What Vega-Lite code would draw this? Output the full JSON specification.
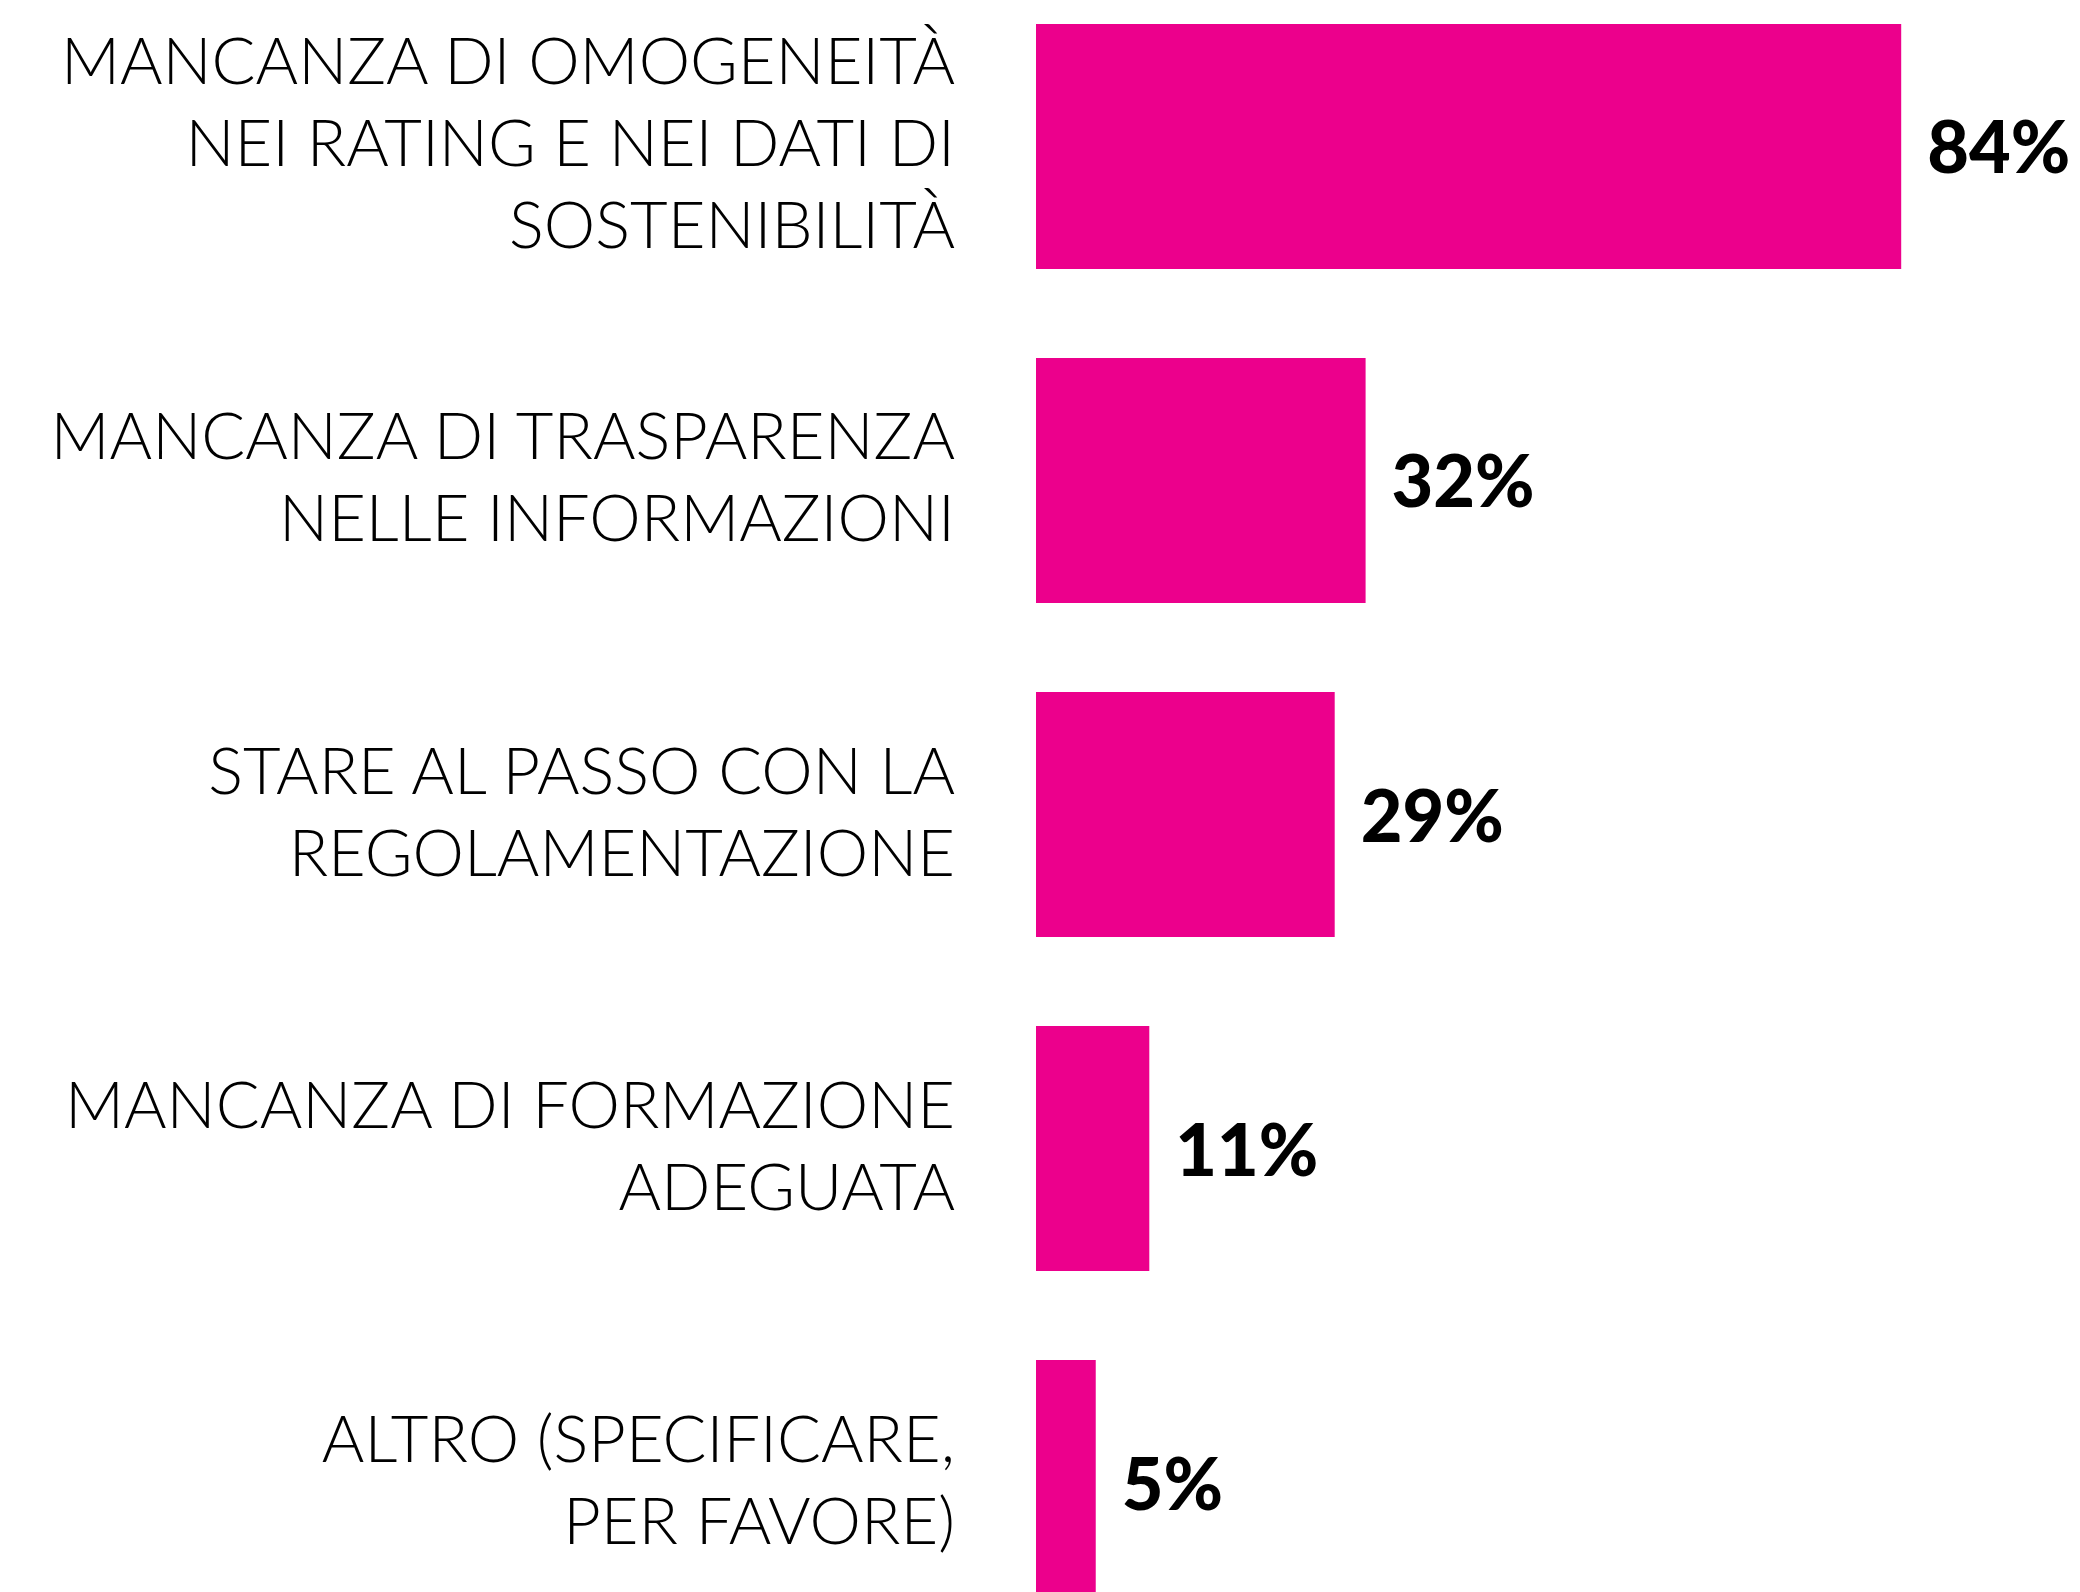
{
  "$schema": "https://vega.github.io/schema/vega-lite/v6.json",
  "width": 1030,
  "height": 1592,
  "autosize": {"type": "none"},
  "padding": {"left": 1036, "top": 0, "right": 14, "bottom": 0},
  "background": "white",
  "config": {"view": {"stroke": null}},
  "data": {
    "values": [
      {"categoria": "MANCANZA DI OMOGENEITÀ\nNEI RATING E NEI DATI DI\nSOSTENIBILITÀ", "pct": 84, "etichetta": "84%"},
      {"categoria": "MANCANZA DI TRASPARENZA\nNELLE INFORMAZIONI", "pct": 32, "etichetta": "32%"},
      {"categoria": "STARE AL PASSO CON LA\nREGOLAMENTAZIONE", "pct": 29, "etichetta": "29%"},
      {"categoria": "MANCANZA DI FORMAZIONE\nADEGUATA", "pct": 11, "etichetta": "11%"},
      {"categoria": "ALTRO (SPECIFICARE,\nPER FAVORE)", "pct": 5.8, "etichetta": "5%"}
    ]
  },
  "encoding": {
    "y": {
      "field": "categoria",
      "type": "nominal",
      "sort": null,
      "axis": null,
      "scale": {"range": [24, 1605], "paddingInner": 0.2665, "paddingOuter": 0}
    }
  },
  "layer": [
    {
      "mark": {"type": "bar", "color": "#EC008C"},
      "encoding": {
        "x": {"field": "pct", "type": "quantitative", "axis": null, "scale": {"domain": [0, 100]}}
      }
    },
    {
      "mark": {"type": "text", "align": "left", "baseline": "middle", "dx": 26, "dy": 5, "font": "Lato", "fontWeight": 900, "fontSize": 72, "color": "#000000"},
      "encoding": {
        "x": {"field": "pct", "type": "quantitative"},
        "text": {"field": "etichetta"}
      }
    },
    {
      "mark": {"type": "text", "align": "right", "baseline": "middle", "dx": -81, "dy": {"expr": "-(length(split(datum.categoria, '\\n')) - 1) * 41"}, "font": "Lato", "fontWeight": 300, "fontSize": 65, "lineHeight": 82, "lineBreak": "\n", "color": "#000000"},
      "encoding": {
        "x": {"datum": 0, "type": "quantitative"},
        "text": {"field": "categoria"}
      }
    }
  ]
}
